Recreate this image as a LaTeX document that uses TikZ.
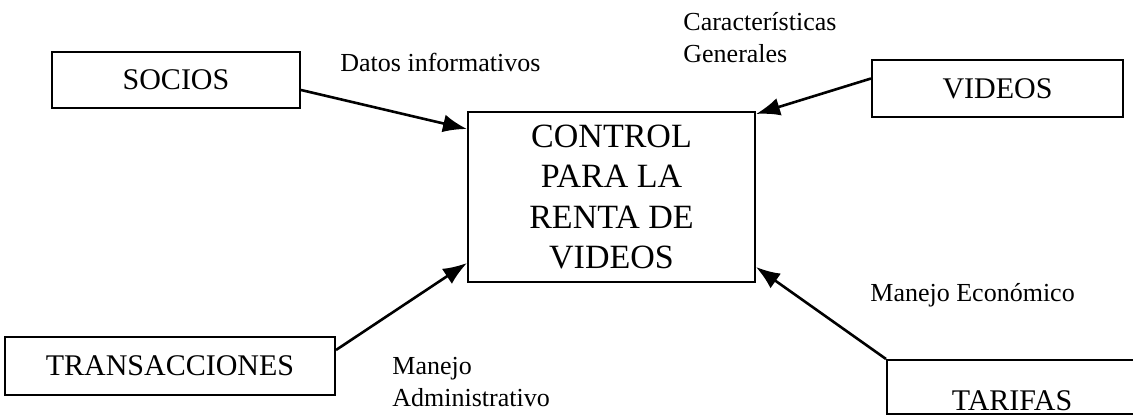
\documentclass[tikz,border=0pt]{standalone}
\usepackage{fontspec}
\setmainfont{Liberation Serif}
\usetikzlibrary{arrows.meta}

\tikzset{
  caja/.style={draw, line width=1pt, inner sep=2pt, font=\fontsize{15pt}{18pt}\selectfont},
  flecha/.style={-{Latex[length=12pt,width=9pt]}, line width=1.3pt},
  etiqueta/.style={inner sep=0pt, align=left, anchor=west, font=\fontsize{13pt}{16pt}\selectfont}
}

\begin{document}
\begin{tikzpicture}[x=0.5pt,y=-0.5pt]
    \useasboundingbox (0,0) rectangle (1133,417);
    \clip (0,0) rectangle (1133,417);

    % Proceso central
    \node[caja, align=center, minimum width=143.5pt, minimum height=85pt,
          font=\fontsize{17pt}{20pt}\selectfont] (control) at (611.5,197)
        {CONTROL\\PARA LA\\RENTA DE\\VIDEOS};

    % Entidades
    \node[caja, minimum width=124pt, minimum height=28pt] (socios) at (176,80) {SOCIOS};
    \node[caja, minimum width=125.5pt, minimum height=28.5pt] (videos) at (997.5,88.5) {VIDEOS};
    \node[caja, minimum width=165pt, minimum height=29pt] (trans) at (170,366) {TRANSACCIONES};
    \node[caja, minimum width=125pt, minimum height=27pt, text height=23pt, text depth=0pt] (tarifas) at (1012,387) {TARIFAS};

    % Flujos
    \draw[flecha] ([yshift=-5pt]socios.east) -- ([yshift=-9pt]control.north west);
    \draw[flecha] ([yshift=5pt]videos.west) -- ([yshift=-1.5pt]control.north east);
    \draw[flecha] ([yshift=8pt]trans.east) -- ([yshift=10pt]control.south west);
    \draw[flecha] (tarifas.north west) -- ([yshift=8pt]control.south east);

    % Etiquetas
    \node[etiqueta] (datos) at (340,62) {Datos informativos};
    \node[etiqueta] (caract) at (683,38) {Características\\Generales};
    \node[etiqueta] (admin) at (392,382) {Manejo\\Administrativo};
    \node[etiqueta] (econ) at (870,295) {Manejo Económico};
\end{tikzpicture}
\end{document}
